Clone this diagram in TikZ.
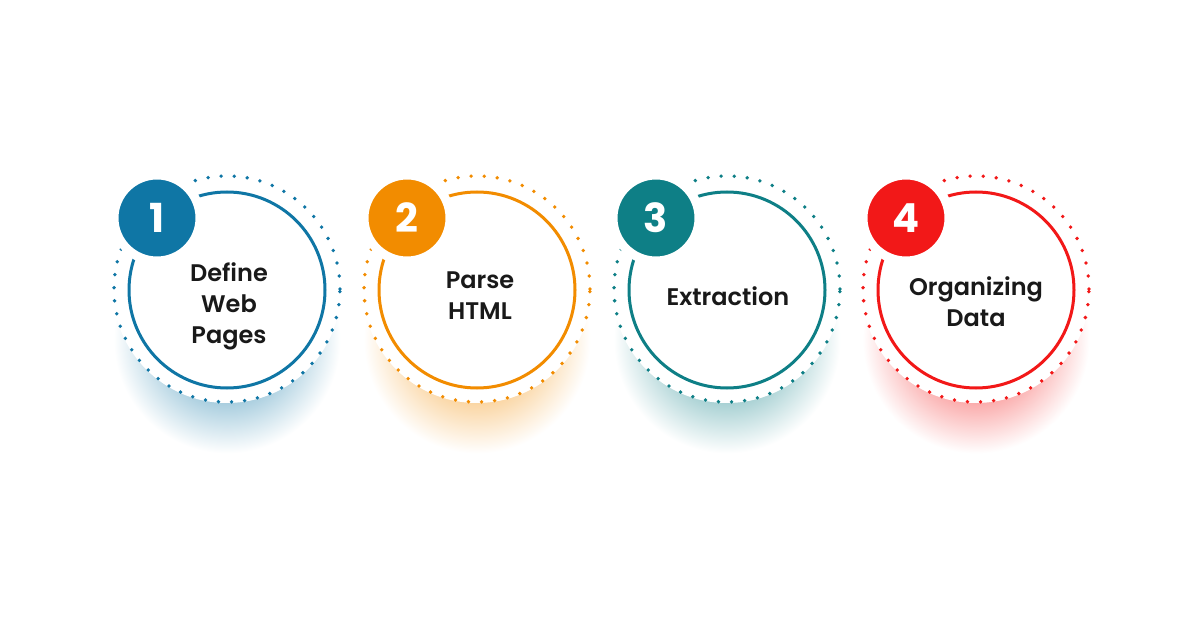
\documentclass[tikz,border=0pt]{standalone}
\usepackage{fontspec}
\setmainfont{Poppins}
\newfontfamily\labelfont{Poppins SemiBold}
\newfontfamily\numfont{Poppins Bold}
\usetikzlibrary{calc}

\definecolor{stepblue}{HTML}{0F76A5}
\definecolor{steporange}{HTML}{F28C00}
\definecolor{stepteal}{HTML}{0E7F86}
\definecolor{stepred}{HTML}{F21818}
\colorlet{glowc}{white}
\pgfdeclareradialshading[glowc]{glow}{\pgfpoint{0bp}{0bp}}{color(0bp)=(glowc!65!white); color(10bp)=(glowc!42!white); color(21bp)=(white); color(50bp)=(white)}

\begin{document}
\begin{tikzpicture}[x=1pt, y=-1pt,
        ring/.style={circle, draw=#1, line width=3pt, fill=white, minimum size=196pt, inner sep=0pt},
        dotring/.style={circle, draw=#1, line width=3.8pt, line cap=round, dash pattern=on 0pt off 13.1pt, minimum size=226pt, inner sep=0pt},
        badge/.style={circle, fill=#1, draw=white, line width=9pt, minimum size=86pt, inner sep=0pt, text=white, font=\numfont\fontsize{40}{40}\selectfont},
        steptext/.style={align=center, text=black!90, font=\labelfont\fontsize{24}{31}\selectfont}]
    \useasboundingbox[fill=white] (0,0) rectangle (1200,628);

    \colorlet{glowc}{stepblue}
    \shade[shading=glow] (227,340) circle (135);
    \fill[white] (227,289) circle (114);
    \node[dotring=stepblue] (dots1) at (227,289) {};
    \node[ring=stepblue] (ring1) at (227,290) {};
    \node[badge=stepblue] (badge1) at (157,218) {1};
    \node[steptext] (text1) at (229,306) {Define\\Web\\Pages};

    \colorlet{glowc}{steporange}
    \shade[shading=glow] (477,340) circle (135);
    \fill[white] (477,289) circle (114);
    \node[dotring=steporange] (dots2) at (477,289) {};
    \node[ring=steporange] (ring2) at (477,290) {};
    \node[badge=steporange] (badge2) at (407,218) {2};
    \node[steptext] (text2) at (480,296) {Parse\\HTML};

    \colorlet{glowc}{stepteal}
    \shade[shading=glow] (727,340) circle (135);
    \fill[white] (727,289) circle (114);
    \node[dotring=stepteal] (dots3) at (727,289) {};
    \node[ring=stepteal] (ring3) at (727,290) {};
    \node[badge=stepteal] (badge3) at (656,218) {3};
    \node[steptext] (text3) at (728,296) {Extraction};

    \colorlet{glowc}{stepred}
    \shade[shading=glow] (976,340) circle (135);
    \fill[white] (976,289) circle (114);
    \node[dotring=stepred] (dots4) at (976,289) {};
    \node[ring=stepred] (ring4) at (976,290) {};
    \node[badge=stepred] (badge4) at (906,218) {4};
    \node[steptext] (text4) at (976,302) {Organizing\\Data};
\end{tikzpicture}
\end{document}
